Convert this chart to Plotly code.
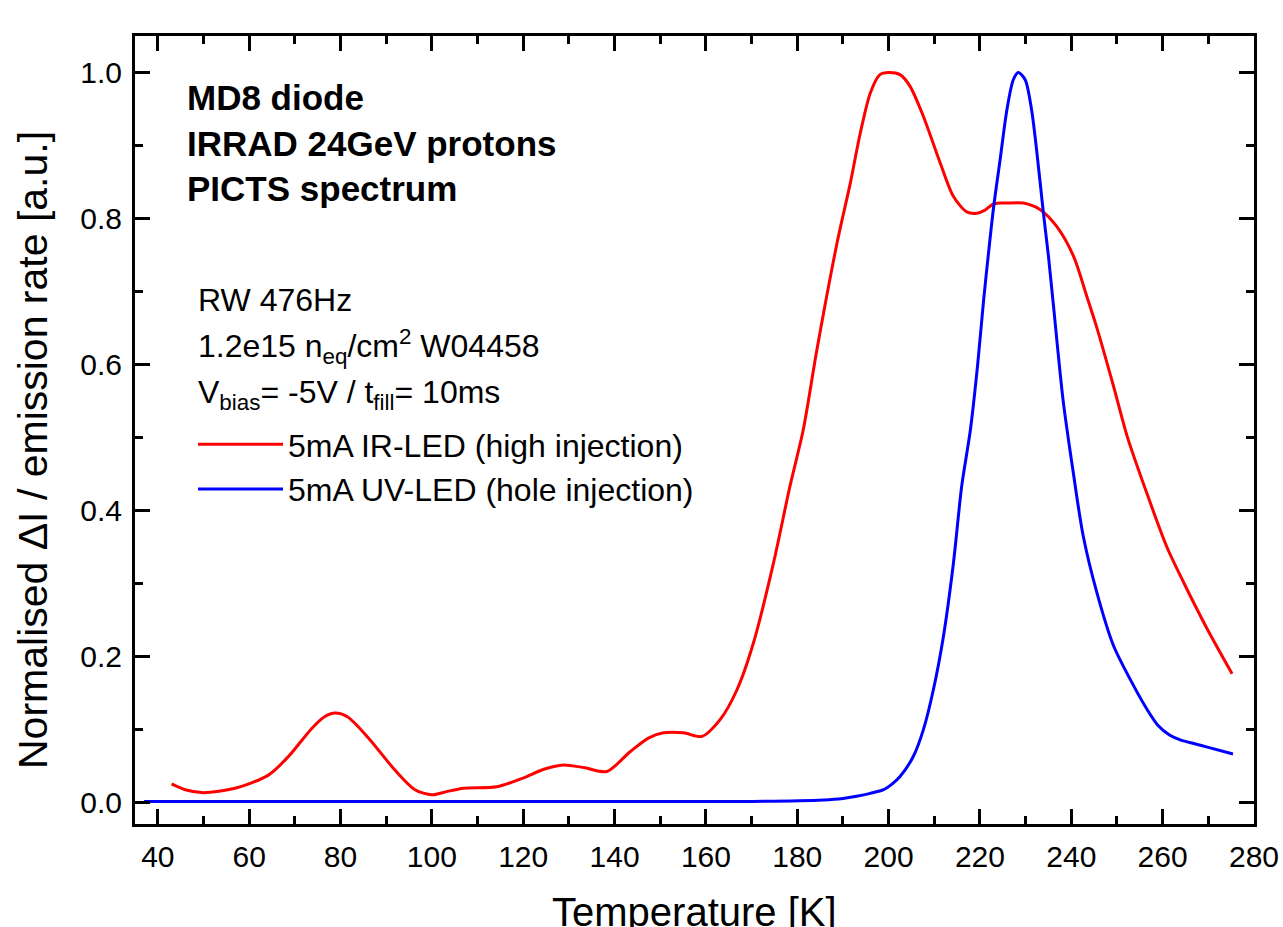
import plotly.graph_objects as go

# ---- data ----
T_ir = [43.0, 46.0, 50.0, 56.9, 64.2, 68.6, 73.7, 76.5, 78.8, 81.5, 86.1, 91.9, 96.3, 100.0,
        103.0, 106.9, 114.2, 120.0, 124.5, 128.8, 133.5, 138.3, 143.4, 147.5, 150.7, 155.1,
        159.1, 163.1, 166.8, 170.4, 174.8, 178.4, 181.3, 184.3, 188.7, 191.6, 193.8, 196.0,
        198.1, 200.0, 202.5, 204.7, 207.6, 211.3, 214.2, 217.1, 219.3, 221.0, 223.0, 226.0,
        229.5, 233.2, 236.8, 240.5, 243.4, 245.6, 249.2, 252.2, 256.5, 260.9,
        264.6, 269.7, 275.2]
y_ir = [0.025, 0.017, 0.013, 0.019, 0.037, 0.0625, 0.101, 0.117, 0.122, 0.117, 0.088, 0.044,
        0.017, 0.010, 0.014, 0.019, 0.021, 0.033, 0.045, 0.051, 0.047, 0.042, 0.069, 0.088,
        0.095, 0.095, 0.090, 0.113, 0.154, 0.218, 0.328, 0.433, 0.510, 0.620, 0.766, 0.848,
        0.917, 0.972, 0.997, 1.000, 0.997, 0.981, 0.940, 0.876, 0.830, 0.809, 0.807, 0.811,
        0.820, 0.821, 0.821, 0.812, 0.789, 0.748, 0.693, 0.650, 0.571, 0.502,
        0.424, 0.350, 0.301, 0.238, 0.176]

T_uv = [37.0, 50.0, 70.0, 90.0, 110.0, 130.0, 150.0, 170.0, 185.7, 190.0, 193.0, 196.0,
        198.9, 200.8, 202.5, 205.4, 207.6, 209.8, 212.0, 214.2, 216.0, 217.9, 219.5, 220.8,
        222.0, 223.0, 224.4, 225.9, 227.3, 228.4, 229.9, 231.3, 232.4, 233.9, 235.0, 236.1,
        238.2, 240.4, 242.6, 245.6, 249.2, 253.6, 256.5, 259.0, 261.5, 264.0, 267.0, 270.0,
        275.4]
y_uv = [0.001, 0.001, 0.001, 0.001, 0.001, 0.001, 0.001, 0.001, 0.003, 0.005, 0.008, 0.012,
        0.017, 0.025, 0.035, 0.0625, 0.099, 0.154, 0.227, 0.328, 0.433, 0.510, 0.600, 0.688,
        0.760, 0.816, 0.880, 0.949, 0.990, 1.000, 0.990, 0.949, 0.894, 0.807, 0.748, 0.680,
        0.551, 0.453, 0.365, 0.287, 0.215, 0.160, 0.128, 0.105, 0.092, 0.085, 0.080, 0.075,
        0.066]

name_ir = "5mA IR-LED (high injection)"
name_uv = "5mA UV-LED (hole injection)"
x_ticks = [40, 60, 80, 100, 120, 140, 160, 180, 200, 220, 240, 260, 280]
y_ticks = [0.0, 0.2, 0.4, 0.6, 0.8, 1.0]

FONT = "Liberation Sans, Arial, sans-serif"

fig = go.Figure()
fig.add_trace(go.Scatter(x=T_ir, y=y_ir, mode="lines", name=name_ir,
                         line=dict(color="#FF0000", width=3, shape="spline", smoothing=0.8)))
fig.add_trace(go.Scatter(x=T_uv, y=y_uv, mode="lines", name=name_uv,
                         line=dict(color="#0000FF", width=3, shape="spline", smoothing=0.8)))

axis_common = dict(
    showline=True, linecolor="black", linewidth=3, mirror="allticks",
    ticks="inside", ticklen=15, tickwidth=2.5, tickcolor="black",
    showgrid=False, zeroline=False, automargin=False,
    tickfont=dict(family=FONT, size=30, color="black"),
)
fig.update_xaxes(range=[35, 280], tickvals=x_ticks,
                 minor=dict(dtick=10, tick0=0, ticks="inside", ticklen=8, tickwidth=2.5,
                            tickcolor="black", showgrid=False),
                 ticklabelstandoff=4, **axis_common)
fig.update_yaxes(range=[-0.03, 1.05], tickvals=y_ticks, tickformat=".1f",
                 minor=dict(dtick=0.1, tick0=0, ticks="inside", ticklen=8, tickwidth=2.5,
                            tickcolor="black", showgrid=False),
                 ticklabelstandoff=4, **axis_common)

def px2paper_x(px):
    return (px - 135) / 1119.0

def px2paper_y(py):
    return (824 - py) / 788.0

annotations = []
for txt, py in [("MD8 diode", 98), ("IRRAD 24GeV protons", 143), ("PICTS spectrum", 188)]:
    annotations.append(dict(text="<b>" + txt + "</b>", x=px2paper_x(185), y=px2paper_y(py),
                            xref="paper", yref="paper", xanchor="left", yanchor="middle",
                            showarrow=False, font=dict(family=FONT, size=35, color="black")))
for txt, py in [("RW 476Hz", 300), ("1.2e15 n<sub>eq</sub>/cm<sup>2</sup> W04458", 346),
                ("V<sub>bias</sub>= -5V / t<sub>fill</sub>= 10ms", 394)]:
    annotations.append(dict(text=txt, x=px2paper_x(196), y=px2paper_y(py),
                            xref="paper", yref="paper", xanchor="left", yanchor="middle",
                            showarrow=False, font=dict(family=FONT, size=32, color="black")))
annotations.append(dict(text="Temperature [K]", x=0.5, y=px2paper_y(888), xref="paper",
                        yref="paper", xanchor="center", yanchor="top", showarrow=False,
                        font=dict(family=FONT, size=40, color="black")))
annotations.append(dict(text="Normalised \u0394I / emission rate [a.u.]", x=px2paper_x(33),
                        y=px2paper_y(450), xref="paper", yref="paper", xanchor="center",
                        yanchor="middle", textangle=-90, showarrow=False,
                        font=dict(family=FONT, size=41, color="black")))

fig.update_layout(
    width=1283, height=927,
    margin=dict(l=135, r=29, t=36, b=103),
    paper_bgcolor="white", plot_bgcolor="white",
    font=dict(family=FONT, color="black"),
    annotations=annotations,
    legend=dict(x=px2paper_x(193), y=px2paper_y(417), xanchor="left", yanchor="top",
                bgcolor="rgba(0,0,0,0)", borderwidth=0, itemwidth=85,
                font=dict(family=FONT, size=32, color="black"), tracegroupgap=0),
    showlegend=True,
)

fig.write_html("out.html")
